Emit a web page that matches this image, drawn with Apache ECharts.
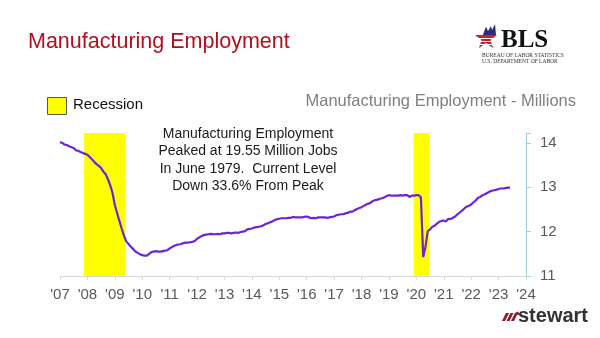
<!DOCTYPE html>
<html>
<head>
<meta charset="utf-8">
<script src="https://cdn.jsdelivr.net/npm/echarts@6/dist/echarts.min.js"></script>
<style>html,body{margin:0;padding:0;background:#fff;}#c{width:600px;height:338px;}</style>
</head>
<body>
<div id="c"></div>
<script>
// Monthly manufacturing employment, millions, Jan 2007 - Jun 2023
var startYear = 2007;
var emp2007 = [14.01,14.00,13.96,13.95,13.92,13.90,13.88,13.83,13.82,13.79,13.77,13.75];
var emp2008 = [13.73,13.68,13.63,13.57,13.52,13.48,13.43,13.35,13.29,13.18,13.04,12.87];
var emp2009 = [12.60,12.42,12.24,12.07,11.91,11.78,11.72,11.66,11.61,11.55,11.52,11.49];
var emp2010 = [11.47,11.46,11.46,11.50,11.54,11.55,11.56,11.55,11.55,11.56,11.57,11.58];
var emp2011 = [11.62,11.65,11.68,11.70,11.71,11.72,11.74,11.75,11.75,11.76,11.77,11.79];
var emp2012 = [11.84,11.87,11.90,11.92,11.93,11.94,11.95,11.94,11.94,11.95,11.94,11.96];
var emp2013 = [11.96,11.97,11.97,11.96,11.97,11.98,11.97,11.99,12.00,12.01,12.05,12.06];
var emp2014 = [12.07,12.09,12.10,12.11,12.12,12.14,12.17,12.19,12.21,12.23,12.26,12.28];
var emp2015 = [12.29,12.30,12.30,12.30,12.31,12.31,12.33,12.32,12.32,12.32,12.32,12.33];
var emp2016 = [12.34,12.32,12.30,12.31,12.30,12.32,12.32,12.32,12.32,12.31,12.32,12.33];
var emp2017 = [12.34,12.37,12.38,12.39,12.39,12.41,12.42,12.45,12.45,12.48,12.51,12.53];
var emp2018 = [12.55,12.58,12.61,12.63,12.65,12.69,12.71,12.72,12.74,12.75,12.77,12.80];
var emp2019 = [12.82,12.81,12.81,12.81,12.81,12.82,12.81,12.82,12.82,12.78,12.81,12.81];
var emp2020 = [12.82,12.82,12.77,11.43,11.66,12.01,12.05,12.11,12.13,12.18,12.22,12.24];
var emp2021 = [12.25,12.23,12.29,12.28,12.31,12.34,12.39,12.43,12.47,12.52,12.56,12.58];
var emp2022 = [12.61,12.66,12.70,12.76,12.78,12.82,12.84,12.87,12.90,12.92,12.93,12.94];
var emp2023 = [12.96,12.97,12.97,12.98,12.99,12.99];
var recessions = [[2007.88, 2009.38], [2019.9, 2020.47]];
var yTicks = [11, 12, 13, 14];

var monthly = [].concat(emp2007,emp2008,emp2009,emp2010,emp2011,emp2012,emp2013,emp2014,
  emp2015,emp2016,emp2017,emp2018,emp2019,emp2020,emp2021,emp2022,emp2023);
var lineData = monthly.map(function(v,i){ return [startYear + i/12, v]; });

var chart = echarts.init(document.getElementById('c'));
var grid = {left:60, right:74, top:133, bottom:62};
chart.setOption({
  animation:false,
  backgroundColor:'#ffffff',
  grid: grid,
  xAxis: {
    type:'value', min:2007, max:2024, interval:1,
    axisLine:{show:true, lineStyle:{color:'#d9d9d9', width:1}},
    axisTick:{show:true, length:4, lineStyle:{color:'#d9d9d9'}},
    splitLine:{show:false},
    axisLabel:{color:'#595959', fontSize:15, fontFamily:'Liberation Sans', margin:11,
      formatter:function(v){ return "'" + String(v % 100).padStart(2,'0'); }}
  },
  yAxis: {
    type:'value', position:'right', min:11, max:14.22, interval:1,
    axisLine:{show:true, lineStyle:{color:'#9fd3e3', width:1}},
    axisTick:{show:true, length:5, inside:false, lineStyle:{color:'#9fd3e3'}},
    splitLine:{show:false},
    axisLabel:{color:'#595959', fontSize:15, fontFamily:'Liberation Sans', margin:14,
      formatter:function(v){ return yTicks.indexOf(v) >= 0 ? String(v) : ''; }}
  },
  series: [{
    type:'line', data: lineData, showSymbol:false, z:3,
    lineStyle:{color:'#6b24da', width:2.2},
    markArea:{
      silent:true,
      itemStyle:{color:'#ffff00'},
      data: recessions.map(function(r){ return [{xAxis:r[0], yAxis:14.22},{xAxis:r[1], yAxis:11}]; })
    }
  }],
  graphic: [
    {type:'text', left:28, top:31, style:{text:'Manufacturing Employment', fill:'#b0101e', font:'21.5px "Liberation Sans"'}},
    {type:'rect', shape:{x:47.5, y:97.5, width:19, height:17}, style:{fill:'#ffff00', stroke:'#555', lineWidth:1}},
    {type:'text', left:73, top:97, style:{text:'Recession', fill:'#111', font:'15px "Liberation Sans"'}},
    {type:'text', x:576, y:93, style:{text:'Manufacturing Employment - Millions', fill:'#7f7f7f', font:'16.5px "Liberation Sans"', textAlign:'right'}},
    {type:'text', x:248, y:125, style:{text:'Manufacturing Employment\nPeaked at 19.55 Million Jobs\nIn June 1979.  Current Level\nDown 33.6% From Peak', fill:'#1a1a1a', font:'14px "Liberation Sans"', textAlign:'center', lineHeight:17.5}},
    // BLS logo
    {type:'polygon', shape:{points:[[486,27],[489,35],[497,35],[490.5,40],[493,48],[486,43],[479,48],[481.5,40],[475,35],[483,35]]}, style:{fill:'#c8202f'}},
    {type:'polygon', shape:{points:[[477,35],[483,35],[486,27],[488,31],[491,26],[492,30],[495,24],[496,35],[489,35]]}, style:{fill:'#2b2f7a'}},
    {type:'line', shape:{x1:477,y1:38.5,x2:495,y2:38.5}, style:{stroke:'#fff', lineWidth:1}},
    {type:'line', shape:{x1:479,y1:41.5,x2:493,y2:41.5}, style:{stroke:'#fff', lineWidth:1}},
    {type:'line', shape:{x1:480,y1:44.5,x2:492,y2:44.5}, style:{stroke:'#fff', lineWidth:1}},
    {type:'text', x:501, y:28, style:{text:'BLS', fill:'#111', font:'bold 25px "Liberation Serif"'}},
    {type:'text', x:482, y:53, style:{text:'BUREAU OF LABOR STATISTICS', fill:'#333', font:'5.5px "Liberation Serif"'}},
    {type:'text', x:482, y:59, style:{text:'U.S. DEPARTMENT OF LABOR', fill:'#333', font:'5.5px "Liberation Serif"'}},
    // stewart logo
    {type:'polygon', shape:{points:[[502,321],[506,313],[509,313],[505,321]]}, style:{fill:'#8b1a2b'}},
    {type:'polygon', shape:{points:[[506.5,321],[510.5,313],[513.5,313],[509.5,321]]}, style:{fill:'#8b1a2b'}},
    {type:'polygon', shape:{points:[[511,321],[515,313],[518,313],[514,321]]}, style:{fill:'#8b1a2b'}},
    {type:'polygon', shape:{points:[[515,313],[518,311.5],[520,315],[518,315]]}, style:{fill:'#8b1a2b'}},
    {type:'text', x:518, y:306, style:{text:'stewart', fill:'#333', font:'bold 20px "Liberation Sans"'}}
  ]
});
</script>
</body>
</html>
